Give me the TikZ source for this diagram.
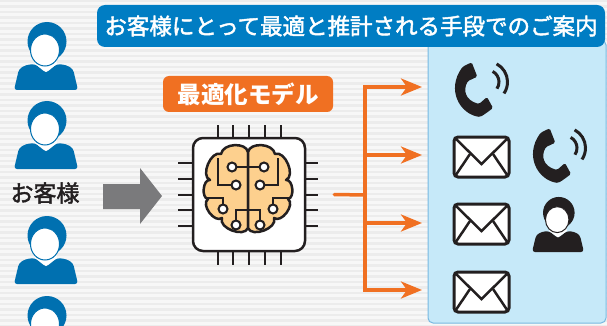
\documentclass[tikz,border=0pt]{standalone}
\usepackage{fontspec}
\newfontfamily\jpfont[FakeBold=2]{Noto Sans CJK JP}
\newfontfamily\jpboldfont{Noto Sans CJK JP}
\usetikzlibrary{positioning}
\usetikzlibrary{arrows.meta}
\usepackage{xcolor}

\definecolor{titleblue}{RGB}{0,125,195}
\definecolor{clientblue}{RGB}{0,112,176}
\definecolor{panelblue}{RGB}{198,233,249}
\definecolor{paneledge}{RGB}{120,185,225}
\definecolor{routeorange}{RGB}{240,112,34}
\definecolor{brainfill}{RGB}{253,208,142}
\definecolor{ink}{RGB}{35,31,32}
\definecolor{arrowgray}{RGB}{122,122,124}
\definecolor{stripe}{RGB}{236,236,236}
\definecolor{bgbase}{RGB}{247,247,247}

\tikzset{
  titlebar/.style={fill=titleblue, rounded corners=8pt, minimum width=508pt, minimum height=42pt,
    text=white, font=\jpfont\fontsize{22.5pt}{24pt}\selectfont},
  modeltag/.style={fill=routeorange, rounded corners=6pt, minimum width=170pt, minimum height=36pt,
    text=white, font=\jpboldfont\bfseries\fontsize{23.5pt}{25pt}\selectfont},
  chipbox/.style={draw=ink, line width=2.5pt, fill=white, rounded corners=10pt,
    minimum width=112pt, minimum height=113pt},
  chippin/.style={ink, line width=2pt},
  wire/.style={ink, line width=2pt},
  route/.style={routeorange, line width=3.5pt},
  routearrow/.style={route, -{Stealth[length=21pt, width=17pt, inset=6pt]}},
  % person icon, origin near the neck
  pics/client/.style={code={
    \fill[#1, rounded corners=3pt] (-32,34) -- (-27,13) -- (-20,9) -- (-11,8) -- (0,17)
      -- (11,8) -- (20,9) -- (27,13) -- (32,34) -- cycle;
    \fill[white] (-10,-2) -- (-11,8) -- (0,16) -- (11,8) -- (9,-2) -- cycle;
    \fill[#1] (1,-14.5) circle[radius=19.5];
    \begin{scope}
      \clip (-40,-23) -- (-15,-23) .. controls (0,-23) and (12,-19) .. (19,-10)
        -- (40,-10) -- (40,40) -- (-40,40) -- cycle;
      \filldraw[fill=white, draw=#1, line width=1pt] (-1,-6) ellipse[x radius=14.5, y radius=16];
    \end{scope}
  }},
  % one half of the brain, x measured from the middle line
  pics/hemisphere/.style={code={
    \filldraw[fill=brainfill, draw=ink, line width=2.5pt, line join=round]
      (0,152) .. controls (-2,142) and (-25,143) .. (-27,154)
      .. controls (-37,150) and (-48,176) .. (-38,180)
      .. controls (-45,179) and (-47,198) .. (-40,199)
      .. controls (-47.5,204.5) and (-33.5,223.5) .. (-26,218)
      .. controls (-30,228) and (-4,238) .. (0,228) -- cycle;
  }},
  % telephone handset with sound waves, origin top left
  pics/phone/.style={code={
    \fill[ink, rounded corners=1.5pt] (16.7,0.3) -- (22.3,14.7) -- (13,19)
      .. controls (8,28) and (10,38) .. (24,42) -- (32,35) -- (38,46) -- (30,52) -- (25,55)
      .. controls (5,52) and (-9,28) .. (7.7,4.7) -- cycle;
    \draw[ink, line width=3pt] (32,20) ++(-62:12) arc[start angle=-62, end angle=34, radius=12];
    \draw[ink, line width=3pt] (32,20) ++(-62:20.5) arc[start angle=-62, end angle=34, radius=20.5];
  }},
  % envelope, origin top left
  pics/envelope/.style={code={
    \filldraw[fill=white, draw=ink, line width=3pt, rounded corners=4pt] (0,0) rectangle (55,40);
    \draw[ink, line width=2.5pt] (1.5,1.5) -- (27.5,27) -- (53.5,1.5);
    \draw[ink, line width=2.5pt] (1.5,38.5) -- (16,17);
    \draw[ink, line width=2.5pt] (53.5,38.5) -- (39,17);
  }}
}

\begin{document}
\begin{tikzpicture}[x=1pt, y=-1pt]

\clip (0,0) rectangle (607,326);

% striped backdrop
\fill[bgbase] (0,0) rectangle (607,326);
\foreach \y in {0,5.5,...,326} {
  \fill[stripe] (0,\y) rectangle (607,\y+2.5);
}

% channel panel
\filldraw[fill=panelblue, draw=paneledge, line width=1pt, rounded corners=5pt] (428,40) rectangle (606,323);

\node[titlebar] (headline) at (351,26) {お客様にとって最適と推計される手段でのご案内};

% customers
\pic at (46,56) {client=clientblue};
\pic at (46,135) {client=clientblue};
\pic at (46,250) {client=clientblue};
\pic at (46,330) {client=clientblue};
\node[font=\jpfont\fontsize{23pt}{25pt}\selectfont, text=ink] (clients) at (45,193) {お客様};

% gray block arrow
\fill[arrowgray] (103,184) -- (140,184) -- (140,168) -- (162,196) -- (140,224) -- (140,209) -- (103,209) -- cycle;

% model chip
\node[modeltag] (model) at (248,94) {最適化モデル};
\node[chipbox] (chip) at (249,194.5) {};
\foreach \i in {-2,...,2} {
  \draw[chippin] ([xshift=\i*15.75pt]chip.north) -- ++(0,-12);
  \draw[chippin] ([xshift=\i*15.75pt]chip.south) -- ++(0,13);
  \draw[chippin] ([yshift=\i*15.75pt]chip.west) -- ++(-14,0);
  \draw[chippin] ([yshift=\i*15.75pt]chip.east) -- ++(12,0);
}

% brain
\pic at (248,0) {hemisphere};
\pic[xscale=-1] at (248,0) {hemisphere};
\draw[wire] (248,152) -- (248,228);

% circuit traces
\draw[wire] (232,167) -- (264,167);
\draw[wire] (236,185) -- (218,185) -- (218,158);
\draw[wire] (260,185) -- (278,185) -- (278,158);
\draw[wire] (223,209) -- (223,198) -- (207,198);
\draw[wire] (273,209) -- (273,198) -- (289,198);
\draw[wire] (236,225) -- (236,210) -- (260,210) -- (260,225);
\foreach \p in {(232,167),(264,167),(236,185),(260,185),(223,209),(273,209),(236,225),(260,225)} {
  \filldraw[fill=white, draw=ink, line width=2pt] \p circle[radius=4.5];
}

% routes to channels
\coordinate (stem) at ([xshift=28pt]chip.east);
\coordinate (hub) at (365,195);
\coordinate (t1) at (422,87);
\coordinate (t2) at (422,155);
\coordinate (t3) at (422,223);
\coordinate (t4) at (422,290);
\draw[route, line cap=round] (stem) -- (hub);
\draw[routearrow] (hub) |- (t1);
\draw[routearrow] (hub) |- (t2);
\draw[routearrow] (hub) |- (t3);
\draw[routearrow] (hub) |- (t4);

% channels
\pic at (455,62) {phone};
\pic at (454,137) {envelope};
\pic at (454,204) {envelope};
\pic at (454,272) {envelope};
\pic at (533,128) {phone};
\pic[scale=0.81] at (558,224.5) {client=ink};

\end{tikzpicture}
\end{document}
